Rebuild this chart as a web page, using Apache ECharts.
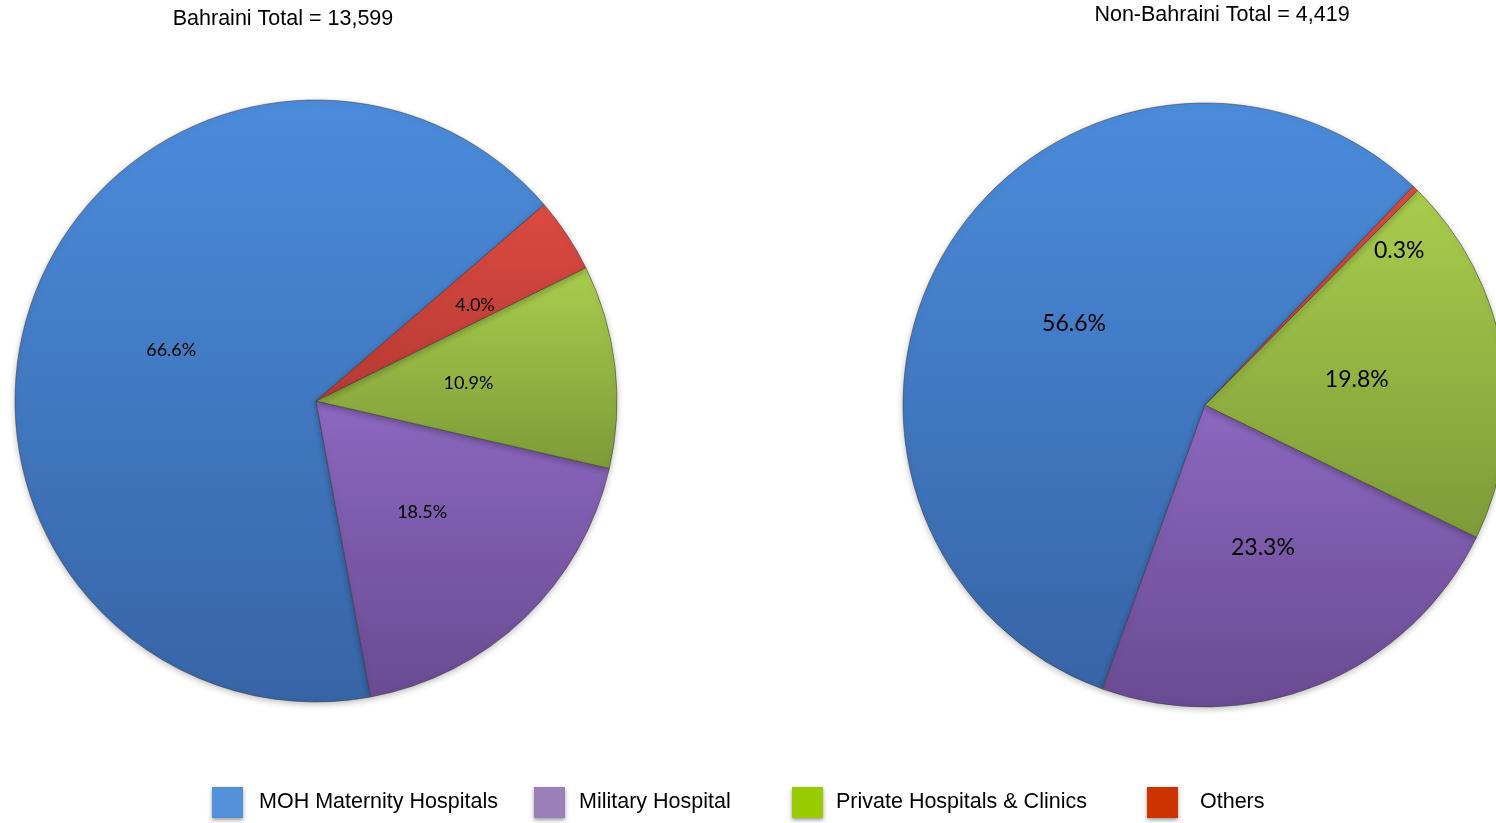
<!DOCTYPE html>
<html>
<head>
<meta charset="utf-8">
<script src="https://cdn.jsdelivr.net/npm/echarts@6/dist/echarts.min.js"></script>
<style>
html,body{margin:0;padding:0;background:#fff;}
#main{width:1496px;height:823px;}
</style>
</head>
<body>
<div id="main"></div>
<script>
const categories = ['MOH Maternity Hospitals', 'Military Hospital', 'Private Hospitals & Clinics', 'Others'];
const bahrainiPct = [66.6, 18.5, 10.9, 4.0];
const nonBahrainiPct = [56.6, 23.3, 19.8, 0.3];
const titles = ['Bahraini Total = 13,599', 'Non-Bahraini Total = 4,419'];

const sliceTop = ['#4b8cdb', '#8c68bf', '#a9cd4d', '#dc4a41'];
const sliceBot = ['#3764a6', '#6a4a92', '#7e9b39', '#b63a33'];
const legendColors = ['#5591d8', '#9a7fb8', '#99cc00', '#cc3300'];

function grad(i){
  return new echarts.graphic.LinearGradient(0,0,0,1,[
    {offset:0,color:sliceTop[i]},{offset:1,color:sliceBot[i]}
  ]);
}

function buildData(vals, othersOffset){
  return categories.map((name,i)=>{
    const d = {name:name, value:vals[i], itemStyle:{color:grad(i)}};
    if(i===3) d.label = {offset: othersOffset};
    return d;
  });
}

const chart = echarts.init(document.getElementById('main'), null, {renderer:'canvas'});

const legendX = [212, 534, 792, 1147];
const legendPad = [11, 9, 8, 17];
const FONT = "'Liberation Sans', Arial, sans-serif";

const option = {
  backgroundColor:'#fff',
  animation:false,
  title:[
    {text:titles[0], left:283, top:8, textAlign:'center', padding:0,
     textStyle:{fontFamily:FONT, fontSize:21.5, fontWeight:'normal', color:'#000'}},
    {text:titles[1], left:1222, top:4, textAlign:'center', padding:0,
     textStyle:{fontFamily:FONT, fontSize:21.5, fontWeight:'normal', color:'#000'}}
  ],
  legend: categories.map((c,i)=>({
    data:[{name:c, itemStyle:{color:legendColors[i], borderWidth:0, shadowBlur:4, shadowColor:'rgba(0,0,0,0.4)', shadowOffsetY:2}}],
    left: legendX[i], top: 787, padding:0,
    icon:'rect', itemWidth:31, itemHeight:31,
    selectedMode:false,
    textStyle:{fontFamily:FONT, fontSize:21.5, color:'#000', padding:[6,0,0,legendPad[i]]}
  })),
  series:[
    {
      type:'pie', center:[316,401], radius:301, clockwise:false, startAngle:40.7,
      data: buildData(bahrainiPct, [31,-11]),
      label:{show:true, position:'inside', fontFamily:'Lato, Noto Sans', fontSize:18, color:'#000',
        formatter: p => p.value.toFixed(1)+'%'},
      labelLine:{show:false},
      itemStyle:{borderColor:'rgba(60,60,60,0.55)', borderWidth:1, shadowBlur:6, shadowColor:'rgba(0,0,0,0.25)', shadowOffsetY:2},
      emphasis:{disabled:true}
    },
    {
      type:'pie', center:[1205,405], radius:302, clockwise:false, startAngle:46.4,
      data: buildData(nonBahrainiPct, [87,-44]),
      label:{show:true, position:'inside', fontFamily:'Lato, Noto Sans', fontSize:23, color:'#000',
        formatter: p => p.value.toFixed(1)+'%'},
      labelLine:{show:false},
      itemStyle:{borderColor:'rgba(60,60,60,0.55)', borderWidth:1, shadowBlur:6, shadowColor:'rgba(0,0,0,0.25)', shadowOffsetY:2},
      emphasis:{disabled:true}
    }
  ]
};
chart.setOption(option);
</script>
</body>
</html>
